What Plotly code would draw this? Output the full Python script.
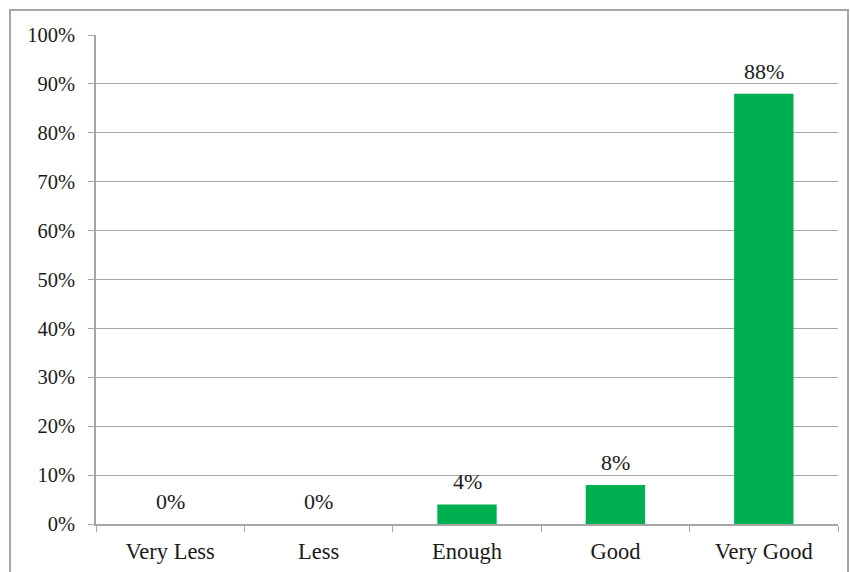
import plotly.graph_objects as go

categories = ["Very Less", "Less", "Enough", "Good", "Very Good"]
values = [0, 0, 4, 8, 88]
labels = ["0%", "0%", "4%", "8%", "88%"]
y_tick_vals = [0, 10, 20, 30, 40, 50, 60, 70, 80, 90, 100]
y_tick_text = [f"{v}%" for v in y_tick_vals]

FONT = "Liberation Serif"
GRID = "#A6A6A6"
TXT = "#1a1a1a"
FS_Y = 20.5
FS_X = 22.5
FS_LBL = 22

fig = go.Figure(go.Bar(
    x=categories, y=values,
    marker=dict(color="#00B050", line=dict(width=0)),
    width=0.4, cliponaxis=False,
))

annotations = [
    dict(x=c, y=v, xref="x", yref="y", text=t, showarrow=False,
         yanchor="bottom", yshift=8, font=dict(family=FONT, size=FS_LBL, color=TXT))
    for c, v, t in zip(categories, values, labels)
]

W, H = 850, 572
L, R, T, B = 96, 12, 35, 48
pw, ph = W - L - R, H - T - B

fig.update_layout(
    width=W, height=H,
    margin=dict(l=L, r=R, t=T, b=B, autoexpand=False),
    paper_bgcolor="white", plot_bgcolor="white",
    showlegend=False,
    font=dict(family=FONT, size=FS_Y, color=TXT),
    annotations=annotations,
    shapes=[dict(
        type="rect", xref="paper", yref="paper",
        x0=(10 - L) / pw, x1=(848 - L) / pw,
        y0=(T + ph - 590) / ph, y1=(T + ph - 10) / ph,
        line=dict(color="#A6A6A6", width=2), fillcolor="rgba(0,0,0,0)", layer="below",
    )],
)
fig.update_xaxes(
    type="category", tickson="boundaries", ticks="outside", ticklen=6,
    tickcolor=GRID, showline=True, linecolor=GRID, linewidth=1.5,
    showgrid=False, ticklabelstandoff=6, automargin=False,
    tickfont=dict(family=FONT, size=FS_X, color=TXT),
)
fig.update_yaxes(
    range=[0, 100], tickvals=y_tick_vals, ticktext=y_tick_text,
    ticks="outside", ticklen=6, tickcolor=GRID,
    showline=True, linecolor=GRID, linewidth=1.5,
    showgrid=True, gridcolor=GRID, gridwidth=1.2, zeroline=False,
    ticklabelstandoff=9, automargin=False,
    tickfont=dict(family=FONT, size=FS_Y, color=TXT),
)

fig.write_html("out.html")
